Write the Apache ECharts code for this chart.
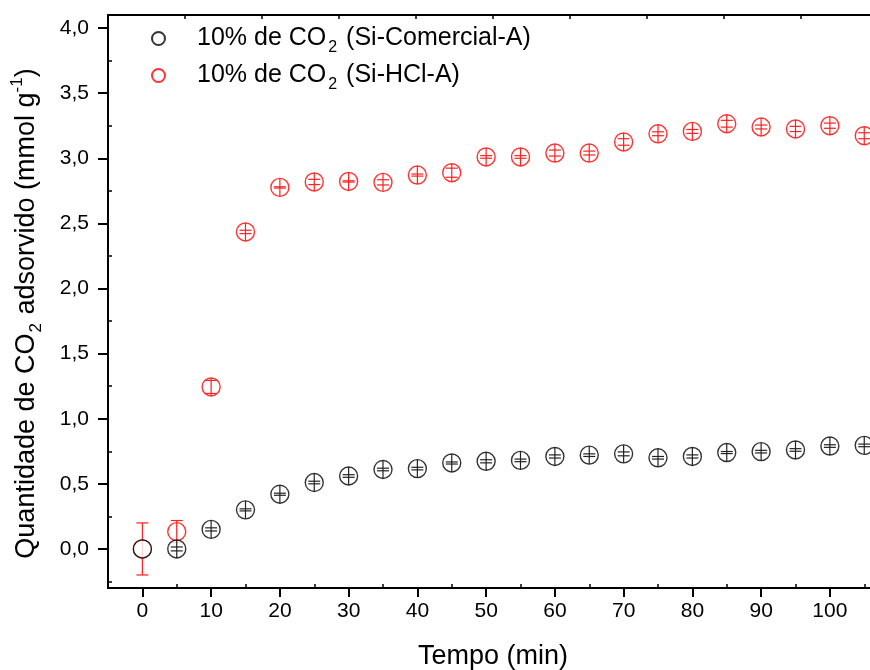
<!DOCTYPE html>
<html>
<head>
<meta charset="utf-8">
<script src="https://cdn.jsdelivr.net/npm/echarts@6/dist/echarts.min.js"></script>
<style>
html,body{margin:0;padding:0;background:#fff;}
#chart{width:870px;height:670px;}
</style>
</head>
<body>
<div id="chart"></div>
<script>
// ---- data ----
var times = [0,5,10,15,20,25,30,35,40,45,50,55,60,65,70,75,80,85,90,95,100,105];
var comercialValues = [0,0,0.15,0.30,0.42,0.51,0.56,0.61,0.617,0.66,0.673,0.68,0.71,0.72,0.73,0.70,0.71,0.74,0.747,0.76,0.79,0.795];
var comercialErrors = [0,0.015,0.012,0.008,0.008,0.01,0.01,0.01,0.01,0.008,0.012,0.01,0.012,0.01,0.015,0.01,0.012,0.008,0.01,0.01,0.01,0.01];
var hclValues = [0,0.133,1.244,2.434,2.776,2.818,2.822,2.815,2.871,2.889,3.01,3.01,3.04,3.04,3.125,3.188,3.206,3.265,3.24,3.225,3.25,3.173];
var hclErrors = [0.2,0.085,0.05,0.013,0.005,0.02,0.005,0.02,0.008,0.035,0.01,0.01,0.023,0.015,0.025,0.015,0.015,0.026,0.015,0.02,0.02,0.023];
var xTicks = [0,10,20,30,40,50,60,70,80,90,100];
var xMinorTicks = [5,15,25,35,45,55,65,75,85,95,105];
var yTicks = [0,0.5,1.0,1.5,2.0,2.5,3.0,3.5,4.0];
var yMinorTicks = [-0.25,0.25,0.75,1.25,1.75,2.25,2.75,3.25,3.75];
var seriesNames = ['Si-Comercial-A','Si-HCl-A'];

var FONT = '"Liberation Sans", Arial, sans-serif';

function pairs(xs, ys, es){
  return xs.map(function(x,i){ return [x, ys[i], es[i]]; });
}

function errRender(color){
  return function(params, api){
    var x = api.value(0), y = api.value(1), e = api.value(2);
    var c = api.coord([x,y]);
    var t = api.coord([x,y+e]);
    var b = api.coord([x,y-e]);
    var r = 9;
    var hw = 6;
    var top = Math.min(t[1], c[1]-r), bot = Math.max(b[1], c[1]+r);
    var st = {stroke: color, lineWidth: 1.2};
    return {type:'group', children:[
      {type:'line', shape:{x1:c[0],y1:top,x2:c[0],y2:bot}, style:st},
      {type:'line', shape:{x1:c[0]-hw,y1:t[1],x2:c[0]+hw,y2:t[1]}, style:st},
      {type:'line', shape:{x1:c[0]-hw,y1:b[1],x2:c[0]+hw,y2:b[1]}, style:st}
    ]};
  };
}

var labelFmt = function(v){ return v.toFixed(1).replace('.', ','); };
var chart = echarts.init(document.getElementById('chart'));
var richText = {
  a:{fontSize:25, fontFamily:FONT, color:'#000'},
  sub:{fontSize:16, fontFamily:FONT, color:'#000', padding:[19,2,0,2]}
};

chart.setOption({
  animation:false,
  backgroundColor:'#fff',
  textStyle:{fontFamily:FONT},
  grid:{left:108, top:15, right:-8, bottom:82, containLabel:false, outerBoundsMode:'none'},
  legend:{
    orient:'vertical', left:146, top:21, itemWidth:13, itemHeight:13, itemGap:7,
    data: seriesNames.map(function(n){return {name:n, icon:'circle'};}),
    formatter:function(n){ return '{a|10% de CO}{sub|2}{a| (' + n + ')}'; },
    textStyle:{rich:richText, padding:[0,0,0,27]}
  },
  xAxis:[
    {type:'value', position:'bottom', min:-5, max:107,
     axisLine:{onZero:false, lineStyle:{color:'#000', width:2}},
     axisTick:{customValues:xTicks, length:9, lineStyle:{color:'#000', width:2}},
     axisLabel:{customValues:xTicks, fontSize:21, color:'#000', margin:13, fontFamily:FONT},
     splitLine:{show:false},
     name:'Tempo (min)', nameLocation:'middle', nameGap:55,
     nameTextStyle:{fontSize:27, color:'#000', fontFamily:FONT}},
    {type:'value', position:'bottom', min:-5, max:107,
     axisLine:{show:false, onZero:false},
     axisTick:{customValues:xMinorTicks, inside:true, length:4, lineStyle:{color:'#000', width:1.5}},
     axisLabel:{show:false}, splitLine:{show:false}},
    {type:'value', position:'top', min:0, max:10, interval:1,
     axisLine:{onZero:false, lineStyle:{color:'#000', width:2}},
     axisTick:{inside:true, length:4, lineStyle:{color:'#000', width:1.5}},
     axisLabel:{show:false}, splitLine:{show:false}}
  ],
  yAxis:[
    {type:'value', position:'left', min:-0.3, max:4.1,
     axisLine:{show:true, onZero:false, lineStyle:{color:'#000', width:2}},
     axisTick:{show:true, customValues:yTicks, length:10, lineStyle:{color:'#000', width:2}},
     axisLabel:{customValues:yTicks, formatter:labelFmt, fontSize:21, color:'#000', margin:19, fontFamily:FONT},
     splitLine:{show:false},
     name:'{t|Quantidade de CO}{sub|2}{t| adsorvido (mmol g}{sup|-1}{t|)}',
     nameLocation:'middle', nameGap:63, nameRotate:90,
     nameTextStyle:{padding:[0,24,0,0], rich:{
       t:{fontSize:27, color:'#000', fontFamily:FONT},
       sub:{fontSize:17, color:'#000', fontFamily:FONT, padding:[20,1,0,1]},
       sup:{fontSize:17, color:'#000', fontFamily:FONT, padding:[0,0,18,0]}
     }}},
    {type:'value', position:'left', min:-0.3, max:4.1,
     axisLine:{show:false, onZero:false},
     axisTick:{show:true, customValues:yMinorTicks, inside:true, length:4, lineStyle:{color:'#000', width:1.5}},
     axisLabel:{show:false}, splitLine:{show:false}}
  ],
  series:[
    {name:seriesNames[1], type:'scatter', xAxisIndex:0, yAxisIndex:0, symbol:'circle', symbolSize:18,
     itemStyle:{color:'rgba(255,255,255,0)', borderColor:'#ff0000', borderWidth:1.4},
     data: pairs(times, hclValues, hclErrors), z:2},
    {type:'custom', xAxisIndex:0, yAxisIndex:0, renderItem:errRender('#ff2020'),
     data: pairs(times, hclValues, hclErrors), z:3},
    {name:seriesNames[0], type:'scatter', xAxisIndex:0, yAxisIndex:0, symbol:'circle', symbolSize:18,
     itemStyle:{color:'#fff', borderColor:'#000', borderWidth:1.4},
     data: pairs(times, comercialValues, comercialErrors), z:4},
    {type:'custom', xAxisIndex:0, yAxisIndex:0, renderItem:errRender('#222'),
     data: pairs(times.slice(1), comercialValues.slice(1), comercialErrors.slice(1)), z:5}
  ]
});
</script>
</body>
</html>
